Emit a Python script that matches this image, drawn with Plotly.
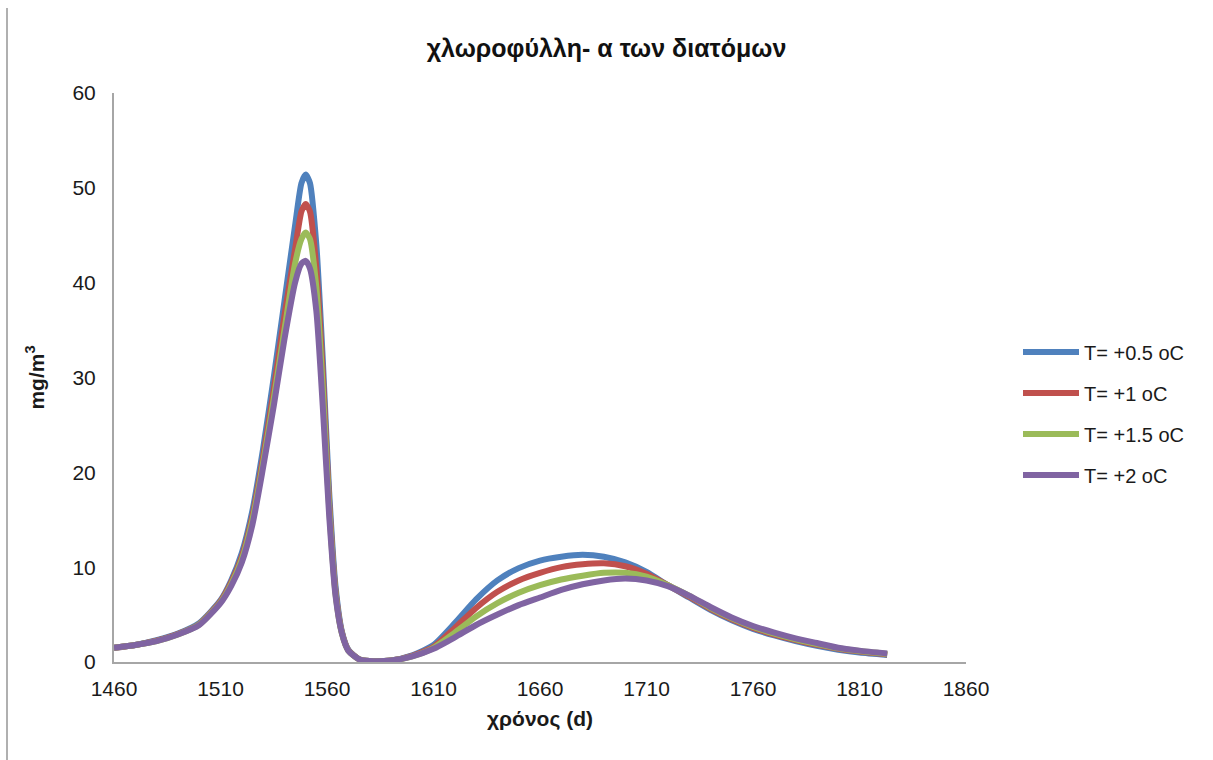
import plotly.graph_objects as go

days = [1460, 1470, 1480, 1490, 1500, 1510, 1515, 1520, 1525, 1530, 1535, 1540, 1545, 1548, 1550,
        1552, 1555, 1558, 1561, 1564, 1567, 1570, 1575, 1580, 1590, 1600, 1610, 1620, 1630,
        1640, 1650, 1660, 1670, 1680, 1690, 1700, 1710, 1720, 1730, 1740, 1750, 1760, 1770,
        1780, 1790, 1800, 1810, 1823]

t_05 = [1.5, 1.8, 2.3, 3.0, 4.1, 6.5, 8.6, 11.5, 16.0, 22.5, 30.0, 38.0, 46.0, 50.5, 51.4,
        50.5, 44.0, 32.0, 18.0, 8.0, 3.2, 1.3, 0.3, 0.1, 0.15, 0.7, 1.8, 4.1, 6.6,
        8.6, 9.9, 10.7, 11.1, 11.3, 11.1, 10.5, 9.5, 8.1, 6.8, 5.5, 4.4, 3.5, 2.8,
        2.2, 1.7, 1.3, 1.0, 0.75]

t_10 = [1.5, 1.8, 2.25, 2.95, 4.0, 6.4, 8.4, 11.1, 15.4, 21.6, 28.7, 36.5, 43.5, 47.5, 48.3,
        47.5, 41.5, 30.5, 17.0, 7.5, 3.1, 1.25, 0.3, 0.1, 0.15, 0.65, 1.6, 3.6, 5.7,
        7.4, 8.6, 9.4, 10.0, 10.3, 10.4, 10.1, 9.3, 8.1, 6.9, 5.6, 4.5, 3.6, 2.9,
        2.3, 1.8, 1.4, 1.1, 0.8]

t_15 = [1.5, 1.8, 2.2, 2.9, 3.95, 6.3, 8.2, 10.8, 15.0, 21.0, 27.8, 35.0, 42.0, 44.6, 45.3,
        44.6, 39.5, 29.0, 16.3, 7.2, 3.0, 1.2, 0.3, 0.1, 0.15, 0.6, 1.5, 3.1, 4.8,
        6.2, 7.3, 8.1, 8.7, 9.1, 9.4, 9.4, 9.0, 8.1, 7.0, 5.7, 4.6, 3.7, 3.0,
        2.4, 1.9, 1.45, 1.15, 0.85]

t_20 = [1.5, 1.8, 2.2, 2.9, 3.9, 6.2, 8.0, 10.5, 14.5, 20.5, 27.0, 34.0, 40.0, 42.0, 42.3,
        41.5, 37.0, 27.0, 15.5, 7.0, 3.0, 1.2, 0.3, 0.1, 0.15, 0.6, 1.4, 2.6, 3.9,
        5.0, 6.0, 6.8, 7.6, 8.2, 8.6, 8.8, 8.6, 8.0, 7.0, 5.8, 4.7, 3.8, 3.1,
        2.5, 2.0, 1.5, 1.2, 0.9]

series = [("T= +0.5 oC", t_05, "#4F81BD"),
          ("T= +1 oC", t_10, "#C0504D"),
          ("T= +1.5 oC", t_15, "#9BBB59"),
          ("T= +2 oC", t_20, "#8064A2")]

x_ticks = [1460, 1510, 1560, 1610, 1660, 1710, 1760, 1810, 1860]
y_ticks = [0, 10, 20, 30, 40, 50, 60]

fig = go.Figure()
for i, (name, vals, col) in enumerate(series):
    fig.add_trace(go.Scatter(x=days, y=vals, name=name, mode="lines", legendgroup=f"g{i}",
                             line=dict(color=col, width=6, shape="spline", smoothing=0.6)))

font_family = "Liberation Sans, Arial, sans-serif"
fig.update_layout(
    width=1213, height=760,
    margin=dict(l=114, r=247, t=93, b=98),
    paper_bgcolor="white", plot_bgcolor="white",
    font=dict(family=font_family, size=20, color="#1a1a1a"),
    title=dict(text="<b>χλωροφύλλη- α των διατόμων</b>", x=0.5, xref="container",
               xanchor="center", y=1 - 48 / 760, yanchor="middle",
               font=dict(size=25, color="#111")),
    showlegend=True,
    legend=dict(x=(1018 - 114) / 852, xanchor="left", y=(662 - 413.5) / 569, yanchor="middle",
                font=dict(size=20), itemwidth=56, tracegroupgap=12,
                bgcolor="rgba(0,0,0,0)"),
    xaxis=dict(range=[1460, 1860], tickvals=x_ticks, showgrid=False, zeroline=False,
               showline=True, linecolor="#a6a6a6", linewidth=2, ticks="",
               ticklabelstandoff=7, tickfont=dict(size=21),
               title=dict(text="<b>χρόνος (d)</b>", font=dict(size=21), standoff=12)),
    yaxis=dict(range=[0, 60], tickvals=y_ticks, showgrid=False, zeroline=False,
               showline=True, linecolor="#a6a6a6", linewidth=2, ticks="",
               ticklabelstandoff=12, tickfont=dict(size=21),
               title=dict(text="<b>mg/m<sup>3</sup></b>", font=dict(size=21), standoff=22)),
)

fig.add_shape(type="line", xref="paper", yref="paper",
              x0=(7 - 114) / 852, x1=(7 - 114) / 852,
              y0=(662 - 8) / 569, y1=(662 - 760) / 569,
              line=dict(color="#b0b0b0", width=2))

fig.write_html("out.html", config={"displayModeBar": False},
               post_script="document.body.style.margin='0';")
